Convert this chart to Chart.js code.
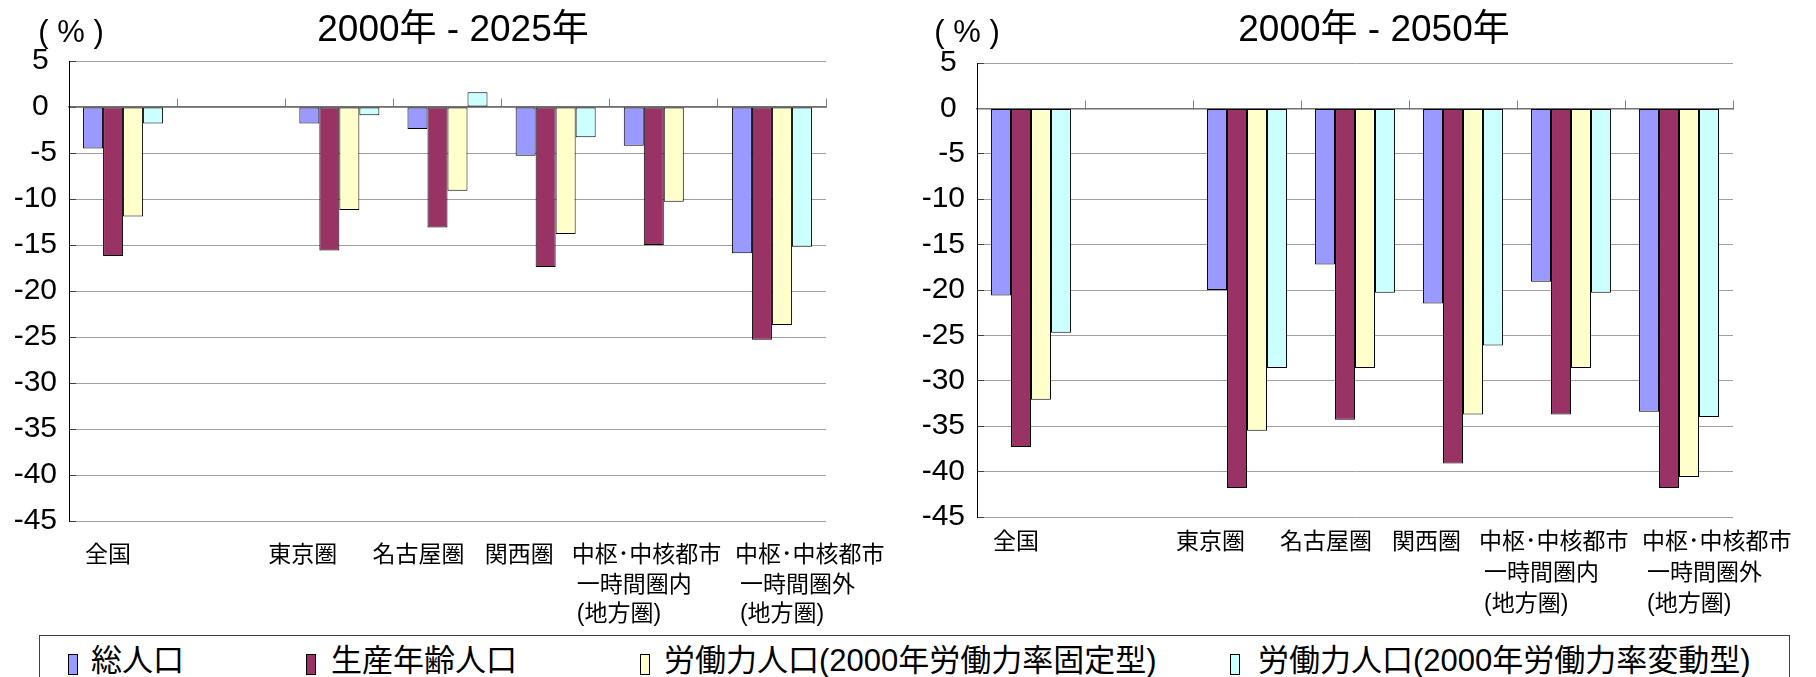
<!DOCTYPE html>
<html lang="ja">
<head>
<meta charset="utf-8">
<title>地域別人口・労働力人口の変化率</title>
<script src="https://cdn.jsdelivr.net/npm/chart.js@4.4.1/dist/chart.umd.min.js"></script>
<style>
  html, body { margin: 0; padding: 0; background: #fff; }
  body {
    width: 1816px; height: 677px; position: relative; overflow: hidden;
    font-family: "Liberation Sans", "Noto Sans CJK JP", sans-serif; color: #000;
  }
  canvas { position: absolute; top: 0; }
  #left { left: 0; }
  #right { left: 908px; }
  #legend {
    position: absolute; left: 39px; top: 635px; width: 1751px; height: 70px;
    border: 1px solid #404040; box-sizing: border-box; background: #fff;
  }
  #legend .key {
    position: absolute; top: 18px; width: 10px; height: 21px;
    border: 1px solid #000; box-sizing: border-box;
  }
  #legend .txt {
    position: absolute; top: 9px; font-size: 31px; line-height: 31px; white-space: nowrap;
  }
</style>
</head>
<body>
<canvas id="left" width="908" height="640"></canvas>
<canvas id="right" width="908" height="640"></canvas>
<div id="legend"></div>

<script>
// Categories (multi-line labels are arrays of lines; the second slot is left empty)
const categories = [
  ['全国'],
  [''],
  ['東京圏'],
  ['名古屋圏'],
  ['関西圏'],
  ['中枢･中核都市', '一時間圏内', '(地方圏)'],
  ['中枢･中核都市', '一時間圏外', '(地方圏)']
];

const seriesNames = [
  '総人口',
  '生産年齢人口',
  '労働力人口(2000年労働力率固定型)',
  '労働力人口(2000年労働力率変動型)'
];

// Change rate 2000 -> 2025 (%)
const total2025      = [-4.5,  null, -1.8,  -2.4,  -5.3,  -4.2,  -15.9];
const working2025    = [-16.2, null, -15.6, -13.1, -17.4, -15.0, -25.3];
const laborFixed2025 = [-11.9, null, -11.2, -9.1,  -13.8, -10.3, -23.7];
const laborVar2025   = [-1.8,  null, -0.9,  1.6,   -3.3,  null,  -15.2];

// Change rate 2000 -> 2050 (%)
const total2050      = [-20.6, null, -20.0, -17.2, -21.5, -19.1, -33.4];
const working2050    = [-37.3, null, -41.8, -34.3, -39.1, -33.7, -41.8];
const laborFixed2050 = [-32.1, null, -35.5, -28.6, -33.7, -28.6, -40.6];
const laborVar2050   = [-24.7, null, -28.6, -20.3, -26.1, -20.3, -34.0];

// Value axis ticks
const yMin = -45, yMax = 5, yStep = 5;

// Styling
const fills = ['#9999FF', '#993366', '#FFFFCC', '#CCFFFF'];
const FONT = '"Liberation Sans", "Noto Sans CJK JP", sans-serif';

// Horizontal nudge of each category label's left edge, relative to the category centre (px)
const labelShift = [-38, 0, -71, -75, -71, -92, -37];

Chart.defaults.font.family = FONT;
Chart.defaults.color = '#000';

// Draws the title, the unit caption and the multi-line category labels under the plot
const annotate = {
  id: 'annotate',
  afterDraw(chart, args, opts) {
    const ctx = chart.ctx;
    const area = chart.chartArea;
    const x = chart.scales.x;
    ctx.save();
    ctx.fillStyle = '#000';
    ctx.textBaseline = 'middle';

    ctx.font = '37px ' + FONT;
    ctx.textAlign = 'center';
    ctx.fillText(opts.title, opts.titleX, opts.titleY);

    ctx.font = '31px ' + FONT;
    ctx.fillText('( % )', opts.unitX, opts.unitY);

    ctx.font = '23px ' + FONT;
    ctx.textAlign = 'left';
    categories.forEach((lines, i) => {
      const left = x.getPixelForValue(i) + labelShift[i];
      lines.forEach((line, k) => {
        const indent = k === 0 ? 0 : 5;
        ctx.fillText(line, left + indent, area.bottom + opts.lineOffsets[k]);
      });
    });
    ctx.restore();
  }
};

function makeChart(id, series, head, pad) {
  const datasets = series.map((data, i) => ({
    label: seriesNames[i],
    data: data,
    backgroundColor: fills[i],
    borderColor: '#000',
    borderWidth: 1,
    borderSkipped: false,
    barPercentage: 1.0,
    categoryPercentage: 0.74
  }));
  return new Chart(document.getElementById(id), {
    type: 'bar',
    data: { labels: categories.map(c => c.join('')), datasets },
    plugins: [annotate],
    options: {
      responsive: false,
      animation: false,
      events: [],
      layout: { padding: pad },
      plugins: {
        legend: { display: false },
        tooltip: { enabled: false },
        title: { display: false },
        annotate: head
      },
      scales: {
        x: {
          position: { y: 0 },
          ticks: { display: false },
          grid: {
            offset: true,
            drawOnChartArea: false,
            drawTicks: true,
            tickLength: -9,
            tickColor: '#808080',
            tickWidth: 1
          },
          border: { display: true, color: '#707070', width: 1.5 }
        },
        y: {
          min: yMin,
          max: yMax,
          afterFit(scale) { scale.width = pad.axisLeft; },
          ticks: {
            stepSize: yStep,
            padding: 19,
            font: { size: 30 },
            color: '#000',
            callback: v => (v >= 0 ? v + ' ' : String(v))
          },
          grid: {
            color: '#a0a0a0',
            lineWidth: 1,
            drawTicks: true,
            tickLength: -7,
            tickColor: '#404040'
          },
          border: { display: true, color: '#000', width: 1 }
        }
      }
    }
  });
}

makeChart('left',
  [total2025, working2025, laborFixed2025, laborVar2025],
  { title: '2000年 - 2025年', titleX: 453, titleY: 31, unitX: 71, unitY: 33,
    lineOffsets: [35, 65, 94] },
  { left: 0, top: 61, right: 82, bottom: 119, axisLeft: 69 });

makeChart('right',
  [total2050, working2050, laborFixed2050, laborVar2050],
  { title: '2000年 - 2050年', titleX: 466, titleY: 31, unitX: 59, unitY: 33,
    lineOffsets: [26, 57, 88] },
  { left: 0, top: 63, right: 83, bottom: 123, axisLeft: 69 });

// Shared legend under both charts
const keyLeft = [28, 266, 600, 1190];
const textLeft = [51, 291, 624, 1218];
const legend = document.getElementById('legend');
seriesNames.forEach((name, i) => {
  const key = document.createElement('div');
  key.className = 'key';
  key.style.left = keyLeft[i] + 'px';
  key.style.background = fills[i];
  legend.appendChild(key);
  const txt = document.createElement('div');
  txt.className = 'txt';
  txt.style.left = textLeft[i] + 'px';
  txt.textContent = name;
  legend.appendChild(txt);
});
</script>
</body>
</html>
